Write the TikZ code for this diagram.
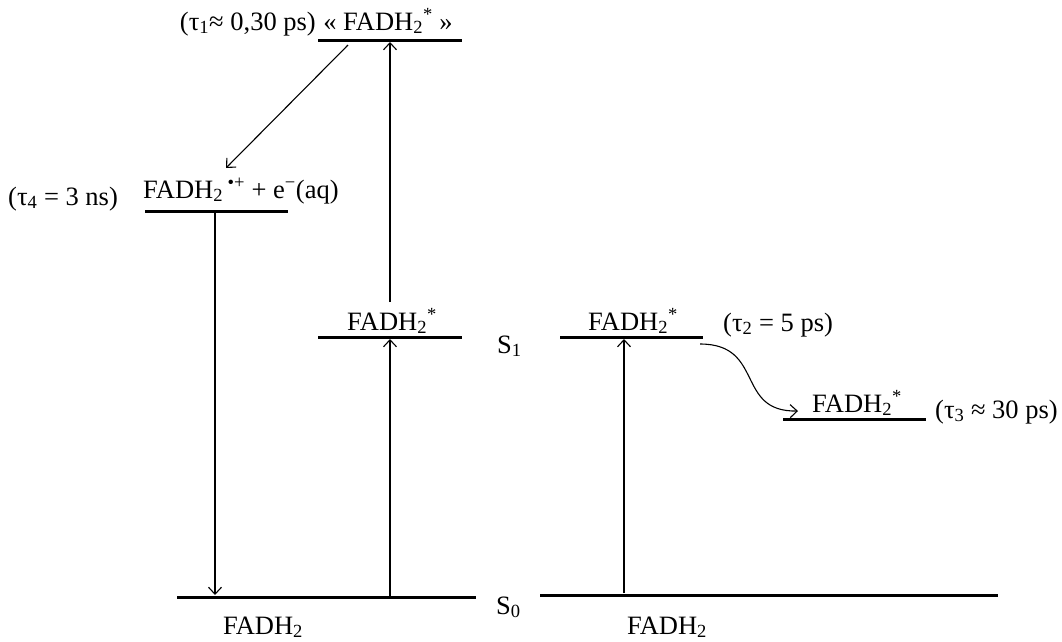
\documentclass[tikz,border=0pt]{standalone}
\usepackage{fontspec}
\setmainfont{Liberation Serif}
\usetikzlibrary{arrows.meta}
\tikzset{
  level/.style={line width=3pt},
  trans/.style={line width=1.1pt,-{Straight Barb[length=7pt,width=13pt,line width=1.1pt]}},
  lbl/.style={inner sep=0pt,font=\fontsize{26.5}{30}\selectfont}
}
\newcommand{\fadh}{FADH\textsubscript{2}}
\newcommand{\fadhs}{FADH\textsubscript{2}\textsuperscript{*}}
\begin{document}
\begin{tikzpicture}[x=1pt,y=-1pt]
\useasboundingbox (0,0) rectangle (1062,641);
% levels
\coordinate (tL) at (318,40);  \coordinate (tR) at (462,40);
\coordinate (mL) at (145,211); \coordinate (mR) at (288,211);
\coordinate (s1aL) at (318,337); \coordinate (s1aR) at (462,337);
\coordinate (s1bL) at (560,337); \coordinate (s1bR) at (703,337);
\coordinate (s1cL) at (783,419); \coordinate (s1cR) at (926,419);
\coordinate (s0aL) at (177,597); \coordinate (s0aR) at (476,597);
\coordinate (s0bL) at (540,595); \coordinate (s0bR) at (998,595);
\draw[level] (tL) -- (tR);
\draw[level] (mL) -- (mR);
\draw[level] (s1aL) -- (s1aR);
\draw[level] (s1bL) -- (s1bR);
\draw[level] (s1cL) -- (s1cR);
\draw[level] (s0aL) -- (s0aR);
\draw[level] (s0bL) -- (s0bR);
% labels
\node[lbl,anchor=base east] (t1) at (316,30) {(τ\textsubscript{1}≈ 0,30 ps)};
\node[lbl,anchor=base] (top) at (388,30) {« \fadhs{} »};
\node[lbl,anchor=base west] (t4) at (8,205) {(τ\textsubscript{4} = 3 ns)};
\node[lbl,anchor=base west] (ion) at (143,198) {\fadh\,\textsuperscript{•+} + e\textsuperscript{−}(aq)};
\node[lbl,anchor=base] (s1a) at (392,330) {\fadhs};
\node[lbl,anchor=base west] (S1) at (497,353) {S\textsubscript{1}};
\node[lbl,anchor=base] (s1b) at (633,330) {\fadhs};
\node[lbl,anchor=base west] (t2) at (723,331) {(τ\textsubscript{2} = 5 ps)};
\node[lbl,anchor=base] (s1c) at (857,412) {\fadhs};
\node[lbl,anchor=base west] (t3) at (935,418) {(τ\textsubscript{3} ≈ 30 ps)};
\node[lbl,anchor=base west] (S0) at (496,614) {S\textsubscript{0}};
\node[lbl,anchor=base] (g1) at (263,634) {\fadh};
\node[lbl,anchor=base] (g2) at (667,634) {\fadh};
% transitions
\coordinate (a1s) at (390,596); \coordinate (a1e) at (390,339);
\coordinate (a2s) at (390,302); \coordinate (a2e) at (390,42);
\coordinate (a3s) at (348,45);  \coordinate (a3e) at (226,168);
\coordinate (a4s) at (215,213); \coordinate (a4e) at (215,595);
\coordinate (a5s) at (624,593); \coordinate (a5e) at (624,339);
\coordinate (a6s) at (700,344); \coordinate (a6e) at (798,411);
\draw[trans] (a1s) -- (a1e);
\draw[trans] (a2s) -- (a2e);
\draw[trans] (a3s) -- (a3e);
\draw[trans] (a4s) -- (a4e);
\draw[trans] (a5s) -- (a5e);
\draw[trans] (a6s) .. controls (765,344) and (735,412) .. (a6e);
\end{tikzpicture}
\end{document}
